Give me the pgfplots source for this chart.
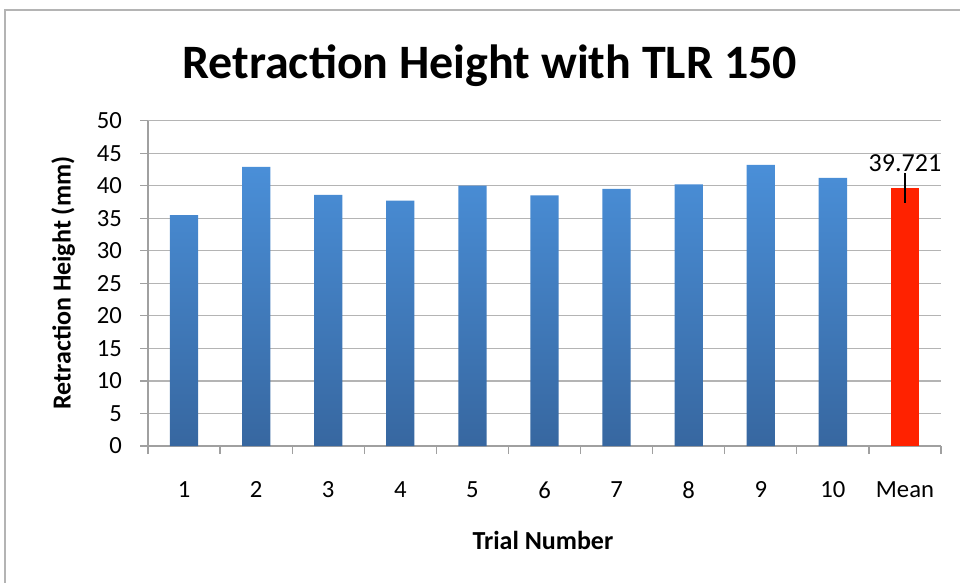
\documentclass[border=0pt]{standalone}
\usepackage{pgfplots}
\pgfplotsset{compat=1.18}
\usepackage{fontspec}
\setmainfont{Carlito}
\definecolor{bartop}{HTML}{4A8FD8}
\definecolor{barbot}{HTML}{3767A0}
\definecolor{meanred}{HTML}{FF2200}
\definecolor{gridgray}{HTML}{B4B4B4}
\definecolor{axgray}{HTML}{A0A0A0}
\begin{document}
\begin{tikzpicture}
\useasboundingbox (0,0) rectangle (720pt,436.5pt);
\draw[gridgray, line width=1.2pt] (3.75pt,-5pt) -- (3.75pt,429pt) -- (725pt,429pt);
\begin{axis}[
  at={(111pt,102pt)}, anchor=south west,
  scale only axis, width=594.75pt, height=244pt,
  xmin=0.5, xmax=11.5, ymin=0, ymax=50,
  axis x line*=bottom, axis y line*=left,
  axis line style={axgray, line width=0.9pt},
  xtick={1,...,11},
  xticklabels={1,2,3,4,5,6,7,8,9,10,Mean},
  minor xtick={0.5,1.5,...,11.5},
  major x tick style={draw=none},
  minor x tick style={axgray, line width=0.9pt},
  minor tick length=6pt,
  ytick={0,5,...,50},
  major tick length=6pt,
  ytick style={axgray, line width=0.9pt},
  tick align=outside,
  ymajorgrids, grid style={gridgray, line width=0.9pt},
  /pgf/number format/assume math mode=true,
  tick label style={font=\fontsize{18.5}{20}\selectfont},
  yticklabel style={xshift=-10pt},
  xticklabel style={yshift=-17pt},
  title={Retraction Height with TLR 150},
  title style={font=\fontsize{36}{40}\bfseries\selectfont, at={(axis description cs:0.431,1.104)}, anchor=base},
  xlabel={Trial Number},
  xlabel style={font=\fontsize{19.5}{22}\bfseries\selectfont, at={(axis description cs:0.498,-0.289)}, anchor=center},
  ylabel={Retraction Height (mm)},
  ylabel style={font=\fontsize{19.5}{22}\bfseries\selectfont, at={(axis description cs:-0.107,0.501)}, anchor=center, rotate=0},
]
\addplot[ybar, bar width=21.2pt, bar shift=0pt, draw=none, top color=bartop, bottom color=barbot]
  coordinates {(1,35.5) (2,42.9) (3,38.6) (4,37.7) (5,40.0) (6,38.5) (7,39.5) (8,40.2) (9,43.2) (10,41.2)};
\addplot[ybar, bar width=21.2pt, bar shift=0pt, draw=none, fill=meanred,
  error bars/.cd, y dir=both, y explicit, error mark=none,
  error bar style={black, line width=1pt}]
  coordinates {(11,39.721) +- (0,2.3)};
\node[anchor=south, inner sep=0pt, font=\fontsize{19.5}{22}\selectfont] at (axis cs:11,42.1) {39.721};
\end{axis}
\end{tikzpicture}
\end{document}
